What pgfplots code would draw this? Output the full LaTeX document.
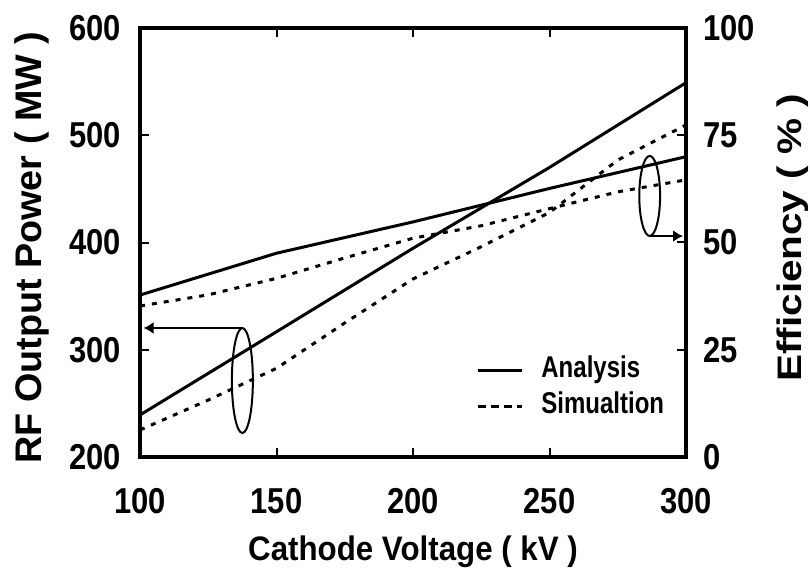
\documentclass[border=0pt]{standalone}
\usepackage{pgfplots}
\pgfplotsset{compat=1.18}
\usepackage{fontspec}
\setmainfont{Liberation Sans}
\newfontfamily\tickfont[FakeStretch=0.86]{Liberation Sans}
\newfontfamily\labfont[FakeStretch=0.92]{Liberation Sans}
\newfontfamily\legfont[FakeStretch=0.8]{Liberation Sans}
\newfontfamily\llabfont[FakeStretch=1.02]{Liberation Sans}
\newfontfamily\rlabfont[FakeStretch=1.19]{Liberation Sans}
\usetikzlibrary{arrows.meta}

\pgfplotstableread{
x P
100 239.2
150 316.8
200 394.6
250 470.0
300 549.0
}\powana
\pgfplotstableread{
x P
100 225.2
125 253.1
150 282.7
175 325.0
200 366.0
225 396.1
250 428.0
275 476.9
300 509.6
}\powsim
\pgfplotstableread{
x E
100 37.75
150 47.5
200 54.8
250 62.6
300 70.0
}\effana
\pgfplotstableread{
x E
100 35.2
125 37.8
150 41.65
175 46.4
200 51.0
225 53.9
250 57.9
275 61.8
300 64.6
}\effsim

\begin{document}
\begin{tikzpicture}
\pgfplotsset{
  common/.style={
    width=273pt, height=214.5pt, scale only axis,
    xmin=100, xmax=300,
    axis line style={line width=2pt},
    tick style={line width=1pt, black},
    major tick length=4.5pt,
    tick align=inside,
    ticklabel style={font=\tickfont\bfseries\fontsize{18}{18}\selectfont},
    /pgf/number format/assume math mode=true,
  },
}
\begin{axis}[common, name=ax,
  ymin=200, ymax=600,
  ytick={200,300,400,500,600},
  xtick={100,150,200,250,300},
  xtick pos=both, xticklabel pos=lower,
  ytick pos=left,
  xticklabel style={anchor=north, inner sep=0pt, yshift=-15.6pt},
  yticklabel style={anchor=east, inner sep=0pt, xshift=-9.2pt},
  xlabel={Cathode Voltage ( kV )},
  xlabel style={font=\labfont\bfseries\fontsize{17}{17}\selectfont, at={(axis description cs:0.5,-0.184)}, anchor=north, inner sep=0pt},
  ylabel={RF Output Power ( MW )},
  ylabel style={font=\llabfont\bfseries\fontsize{18.5}{18.5}\selectfont, at={(axis description cs:-0.1648,0.488)}, anchor=south, inner sep=0pt},
  legend style={draw=none, fill=none, at={(axis description cs:0.6154,0.2354)}, anchor=north west,
    font=\legfont\bfseries\fontsize{15}{15}\selectfont, inner sep=0pt, row sep=3.85pt, column sep=9pt,
    nodes={inner sep=0pt, text height=10.5pt, text depth=3.5pt}},
  legend cell align=left,
  legend image code/.code={\draw[#1] (0pt,0pt) -- (22pt,0pt);},
]
\addplot[black, line width=1.5pt] table[x=x, y=P] {\powana};
\addlegendentry{Analysis}
\addplot[black, line width=1.5pt, dash pattern=on 2.5pt off 3.5pt, legend image post style={dash pattern=on 4pt off 2.5pt}] table[x=x, y=P] {\powsim};
\addlegendentry{Simualtion}
\draw[line width=1pt] (axis cs:137.5,271.3) ellipse [x radius=5.25pt, y radius=26.25pt];
\draw[line width=1pt, -{Latex[length=5pt,width=6pt]}] (axis cs:137.5,320.3) -- (axis cs:101.3,320.3);
\draw[line width=1pt] (axis cs:286.7,443.4) ellipse [x radius=5.2pt, y radius=20pt];
\draw[line width=1pt, -{Latex[length=5pt,width=6pt]}] (axis cs:286.7,406) -- (axis cs:298.9,406);
\end{axis}
\begin{axis}[common,
  ymin=0, ymax=100,
  ytick={0,25,50,75,100},
  axis x line=none, axis y line*=right,
  yticklabel style={anchor=west, inner sep=0pt, xshift=8.5pt},
  ylabel={Efficiency ( \% )},
  ylabel style={font=\rlabfont\bfseries\fontsize{17}{17}\selectfont, at={(axis description cs:1.1648,0.511)}, anchor=north, inner sep=0pt},
]
\addplot[black, line width=1.5pt] table[x=x, y=E] {\effana};
\addplot[black, line width=1.5pt, dash pattern=on 2.5pt off 3.5pt] table[x=x, y=E] {\effsim};
\end{axis}
\pgfresetboundingbox
\path ([xshift=-70pt,yshift=-57pt]ax.south west) rectangle ([xshift=62pt,yshift=14pt]ax.north east);
\end{tikzpicture}
\end{document}
